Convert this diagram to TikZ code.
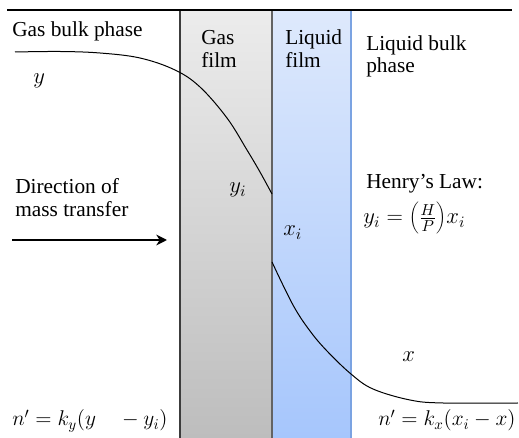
\documentclass[tikz,border=0pt]{standalone}
\usepackage{fix-cm}
\usepackage{fontspec}
\setmainfont{Liberation Serif}
\usetikzlibrary{arrows.meta}
\definecolor{gastop}{HTML}{ECECEC}
\definecolor{gasbot}{HTML}{BDBDBD}
\definecolor{liqtop}{HTML}{DEE9FC}
\definecolor{liqbot}{HTML}{A6C6FC}
\definecolor{liqedge}{HTML}{7BA3E2}
\definecolor{gasedge}{HTML}{3C3C3C}
\begin{document}
\begin{tikzpicture}[x=0.75pt,y=-0.75pt,
  lbl/.style={inner sep=0pt,anchor=base west,font=\fontsize{16}{18}\selectfont},
  mlbl/.style={inner sep=0pt,anchor=base west,font=\fontsize{17}{19}\selectfont},
  flbl/.style={inner sep=0pt,anchor=base west,font=\fontsize{16}{18}\selectfont},
  profile/.style={line width=0.75pt,black},
]
\useasboundingbox (0,0) rectangle (519,438);
% films
\shade[top color=liqtop,bottom color=liqbot] (272,11) rectangle (351,438);
\draw[liqedge,line width=0.8pt] (351,11) -- (351,438);
\shade[top color=gastop,bottom color=gasbot] (180,11) rectangle (272,438);
\draw[gasedge,line width=0.8pt] (180,11) -- (180,438);
\draw[gasedge!80,line width=0.8pt] (272,11) -- (272,438);
% top line
\draw[line width=1.6pt] (7,10) -- (512,10);
% profiles
\draw[profile] plot[smooth,tension=0.6] coordinates {(15,52) (60,51.5) (100,53) (140,58) (175,70) (200,87) (227,118) (247,150) (260,172) (272,194)};
\draw[profile] plot[smooth,tension=0.6] coordinates {(272,262) (293,305) (310,331) (327,351) (351,374) (373,389) (410,400) (443,403) (518,403)};
% texts
\node[lbl] (gasbulk) at (12,37) {Gas bulk phase};
\node[mlbl] (ybulk) at (33,84) {$y$};
\node[lbl] (gasfilm1) at (201,45) {Gas};
\node[lbl] (gasfilm2) at (201,68) {film};
\node[lbl] (liqfilm1) at (285,45) {Liquid};
\node[lbl] (liqfilm2) at (285,68) {film};
\node[lbl] (liqbulk1) at (366,51) {Liquid bulk};
\node[lbl] (liqbulk2) at (366,73) {phase};
\node[lbl] (dir1) at (15,194) {Direction of};
\node[lbl] (dir2) at (15,217) {mass transfer};
\node[mlbl] (yi) at (229,193) {$y_i$};
\node[mlbl] (xi) at (283,236) {$x_i$};
\node[lbl] (henry) at (366,189) {Henry’s Law:};
\node[mlbl] (henryeq) at (363,224) {$y_i = \left(\frac{H}{P}\right)\!x_i$};
\node[mlbl] (xbulk) at (402,362) {$x$};
\node[flbl] (fluxg) at (12,426) {$n' = k_y(y\quad - y_i)$};
\node[flbl] (fluxl) at (378,426) {$n' = k_x(x_i - x)$};
% arrow
\coordinate (arrs) at (12,240);
\coordinate (arre) at (167,240);
\draw[line width=1.7pt,-{Stealth[length=8pt,width=8pt,inset=2.5pt]}] (arrs) -- (arre);
\end{tikzpicture}
\end{document}
